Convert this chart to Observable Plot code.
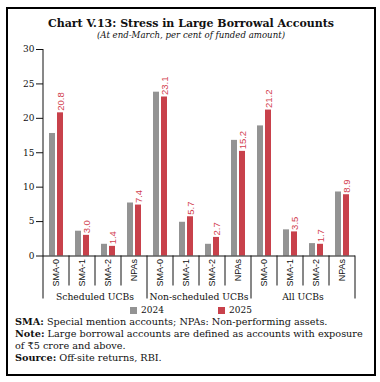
<!DOCTYPE html>
<html>
<head>
<meta charset="utf-8">
<script src="https://cdn.jsdelivr.net/npm/d3@7"></script>
<script src="https://cdn.jsdelivr.net/npm/@observablehq/plot@0.6"></script>
<style>
  html, body { margin: 0; padding: 0; background: #fff; }
  #frame {
    position: absolute; left: 6px; top: 7px; width: 370px; height: 369px;
    border: 2px solid #000; box-sizing: border-box; overflow: hidden;
    font-family: "DejaVu Serif", serif; color: #111;
  }
  #title { padding-top: 9px; height: 12px; line-height: 12px; text-align: center;
    font-weight: bold; font-size: 11px; }
  #subtitle { height: 11px; line-height: 11px; text-align: center; font-style: italic; font-size: 8.6px; }
  #chart svg { display: block; }
  #legend { height: 12px; line-height: 12px; display: flex; justify-content: center; align-items: center;
    font-size: 9px; }
  .sw { display: inline-block; width: 7px; height: 7px; margin-right: 4px; }
  #notes { padding-left: 7px; font-size: 9.7px; line-height: 12px; white-space: nowrap; }
</style>
</head>
<body>
<div id="frame">
  <div id="title">Chart V.13: Stress in Large Borrowal Accounts</div>
  <div id="subtitle">(At end-March, per cent of funded amount)</div>
  <div id="chart"></div>
  <div id="legend"></div>
  <div id="notes">
    <div><b>SMA:</b> Special mention accounts; NPAs: Non-performing assets.</div>
    <div><b>Note:</b> Large borrowal accounts are defined as accounts with exposure</div>
    <div>of ₹5 crore and above.</div>
    <div><b>Source:</b> Off-site returns, RBI.</div>
  </div>
</div>
<script>
const groups = ["Scheduled UCBs", "Non-scheduled UCBs", "All UCBs"];
const categories = ["SMA-0", "SMA-1", "SMA-2", "NPAs"];
const years = ["2024", "2025"];
const values2024 = [17.8, 3.6, 1.7, 7.7, 23.8, 4.9, 1.7, 16.8, 18.9, 3.8, 1.8, 9.3];
const values2025 = [20.8, 3.0, 1.4, 7.4, 23.1, 5.7, 2.7, 15.2, 21.2, 3.5, 1.7, 8.9];
const yTicks = [0, 5, 10, 15, 20, 25, 30];
const colors = ["#939393", "#c8414b"];
const labelColor = "#d2414f";

const keys = groups.flatMap(g => categories.map(c => g + "|" + c));
const data = groups.flatMap((g, gi) => categories.flatMap((c, ci) => years.map((yr, yi) => ({
  group: g, cat: c, key: g + "|" + c, year: yr,
  value: (yi ? values2025 : values2024)[gi * categories.length + ci]
}))));

const serif = "DejaVu Serif, serif";
const sans = "Liberation Sans, Arial, sans-serif";

const plot = Plot.plot({
  width: 366, height: 263,
  marginTop: 8, marginBottom: 48.5, marginLeft: 29, marginRight: 14,
  style: { background: "transparent", color: "#111" },
  fx: { domain: keys, padding: 0, label: null, axis: null },
  x: { domain: years, paddingInner: 0.2, paddingOuter: 0.72, axis: null },
  y: { domain: [0, 30], label: null },
  color: { domain: years, range: colors },
  marks: [
    Plot.barY(data, { fx: "key", x: "year", y: "value", fill: "year" }),
    Plot.ruleY([0], { stroke: "#111", strokeWidth: 1 }),
    Plot.text(data.filter(d => d.year === years[1]), {
      fx: "key", x: "year", y: "value", text: d => d.value.toFixed(1),
      rotate: -90, textAnchor: "start", dy: -2, fill: labelColor,
      fontSize: 9.5, fontFamily: sans
    }),
    Plot.axisY({ ticks: yTicks, tickSize: 7, tickPadding: 2, fontSize: 9, fontFamily: serif, label: null }),
    Plot.axisFx({ anchor: "bottom", tickFormat: k => k.split("|")[1], tickRotate: -90, tickSize: 0, tickPadding: 3,
      fontSize: 9, fontFamily: sans, label: null })
  ]
});
document.getElementById("chart").appendChild(plot);

// separators and group labels from the library's own scales
const fx = plot.scale("fx");
const ys = plot.scale("y");
const bw = fx.bandwidth;
const y0 = ys.apply(0), yTop = ys.apply(yTicks[yTicks.length - 1]);
const svg = d3.select(plot);
const g = svg.append("g").attr("stroke", "#111").attr("stroke-width", 1);
for (let i = 0; i <= keys.length; i++) {
  const xpos = i < keys.length ? fx.apply(keys[i]) : fx.apply(keys[keys.length - 1]) + bw;
  const isGroup = i % categories.length === 0;
  g.append("line")
    .attr("x1", xpos).attr("x2", xpos)
    .attr("y1", i === 0 ? yTop : y0)
    .attr("y2", y0 + (isGroup ? 43 : 30));
}
const tg = svg.append("g").attr("font-family", serif).attr("font-size", 9.2).attr("fill", "#111")
  .attr("text-anchor", "middle");
groups.forEach((grp, gi) => {
  const a = fx.apply(keys[gi * categories.length]);
  const b = fx.apply(keys[gi * categories.length + categories.length - 1]) + bw;
  tg.append("text").attr("x", (a + b) / 2).attr("y", y0 + 41.5).attr("dy", "0.35em").text(grp);
});

// legend
const leg = d3.select("#legend");
years.forEach((yr, i) => {
  const item = leg.append("span").style("display", "inline-flex").style("align-items", "center")
    .style("margin-left", i ? "54px" : "0");
  item.append("span").attr("class", "sw").style("background", colors[i]);
  item.append("span").text(yr);
});
</script>
</body>
</html>
